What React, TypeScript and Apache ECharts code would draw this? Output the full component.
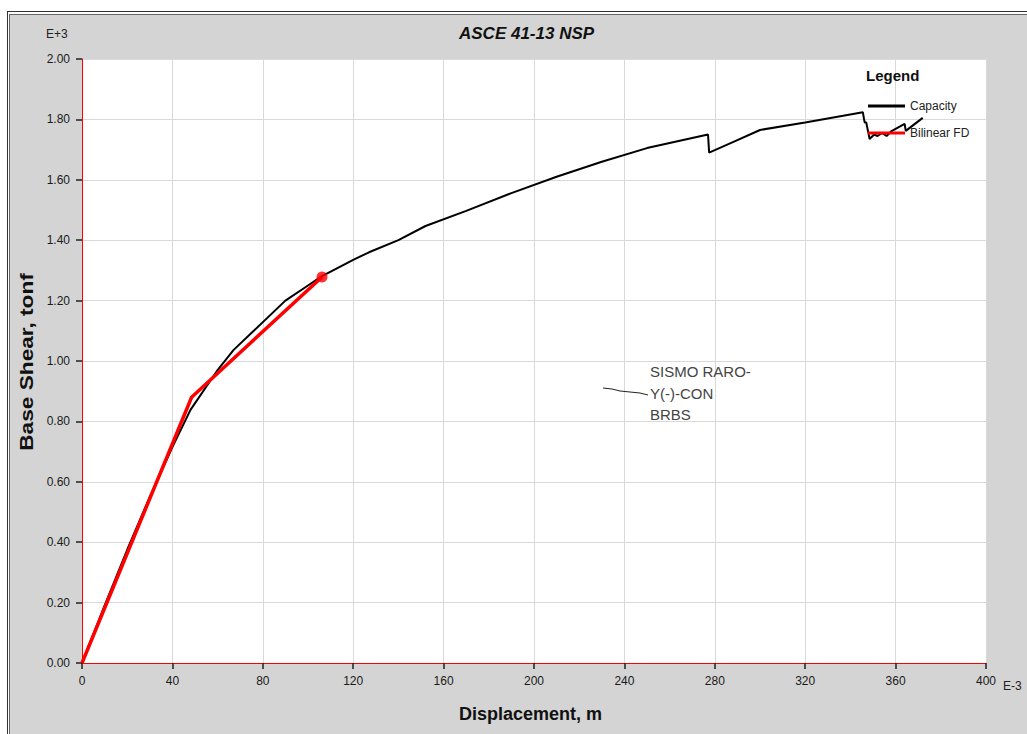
import React, { useEffect, useRef } from "react";
import * as echarts from "echarts";

// Capacity curve (displacement in E-3 m, base shear in E+3 tonf)
const capacityX = [0, 10, 20, 30, 40, 48, 60, 67, 76, 90, 100, 106, 120, 127, 140, 152, 170, 190, 210, 230, 250, 265, 277, 277.5, 288, 300, 320, 345.5, 346.3, 347, 348.5, 350.5, 352, 354, 356, 358, 364, 364.5, 372];
const capacityY = [0, 0.19, 0.375, 0.55, 0.715, 0.838, 0.97, 1.036, 1.1, 1.2, 1.25, 1.28, 1.335, 1.36, 1.4, 1.447, 1.497, 1.556, 1.61, 1.66, 1.705, 1.73, 1.75, 1.69, 1.725, 1.765, 1.79, 1.824, 1.79, 1.79, 1.735, 1.75, 1.745, 1.755, 1.745, 1.76, 1.785, 1.762, 1.805];

// Bilinear FD
const bilinearX = [0, 48.5, 106.2];
const bilinearY = [0, 0.88, 1.278];

const seriesNames = ["Capacity", "Bilinear FD"];
const titleText = "ASCE 41-13 NSP";
const xAxisTitle = "Displacement, m";
const yAxisTitle = "Base Shear, tonf";
const noteLines = ["SISMO RARO-", "Y(-)-CON", "BRBS"];

const FONT = "'Liberation Sans', Arial, sans-serif";

export default function App() {
  const ref = useRef<HTMLDivElement>(null);
  useEffect(() => {
    if (!ref.current) return;
    const chart = echarts.init(ref.current, null, { renderer: "svg" });
    const capData = capacityX.map((x, i) => [x, capacityY[i]]);
    const biData = bilinearX.map((x, i) => [x, bilinearY[i]]);
    const last = biData[biData.length - 1];
    chart.setOption({
      animation: false,
      backgroundColor: "#ffffff",
      textStyle: { fontFamily: FONT },
      grid: {
        left: 82,
        right: 41,
        top: 59,
        bottom: 71,
        show: true,
        backgroundColor: "#ffffff",
        borderWidth: 0,
      },
      xAxis: {
        type: "value",
        min: 0,
        max: 400,
        interval: 40,
        axisLine: { show: true, onZero: false, lineStyle: { color: "#ff0000", width: 1 } },
        axisTick: { show: true, length: 6, lineStyle: { color: "#222", width: 1.5 } },
        axisLabel: { color: "#1a1a1a", fontSize: 12, margin: 12, fontFamily: FONT },
        splitLine: { show: true, lineStyle: { color: "#d9d9d9", width: 1 } },
      },
      yAxis: {
        type: "value",
        min: 0,
        max: 2,
        interval: 0.2,
        axisLine: { show: true, onZero: false, lineStyle: { color: "#ff0000", width: 1 } },
        axisTick: { show: true, length: 6, lineStyle: { color: "#222", width: 1.5 } },
        axisLabel: {
          color: "#1a1a1a",
          fontSize: 12,
          margin: 12,
          fontFamily: FONT,
          formatter: (v: number) => v.toFixed(2),
        },
        splitLine: { show: true, lineStyle: { color: "#d9d9d9", width: 1 } },
      },
      legend: {
        show: true,
        orient: "vertical",
        left: 868,
        top: 100,
        padding: 0,
        itemGap: 15,
        itemWidth: 37,
        itemHeight: 3,
        icon: "rect",
        textStyle: { color: "#222", fontSize: 12, fontFamily: FONT },
        data: [
          { name: seriesNames[0], itemStyle: { color: "#000000" } },
          { name: seriesNames[1], itemStyle: { color: "#ff0000" } },
        ],
      },
      series: [
        {
          name: seriesNames[0],
          type: "line",
          data: capData,
          symbol: "none",
          lineStyle: { color: "#000000", width: 2 },
          itemStyle: { color: "#000000" },
          z: 3,
        },
        {
          name: seriesNames[1],
          type: "line",
          data: biData,
          symbol: "none",
          lineStyle: { color: "#ff0000", width: 3.5 },
          itemStyle: { color: "#ff0000" },
          z: 4,
        },
        {
          name: "Bilinear FD end",
          type: "scatter",
          data: [last],
          symbol: "circle",
          symbolSize: 11,
          itemStyle: { color: "#ff0000" },
          z: 5,
        },
      ],
      graphic: [
        // frame background
        { type: "rect", z: -100, silent: true, shape: { x: 10, y: 15, width: 1100, height: 800 }, style: { fill: "#d4d4d4" } },
        { type: "line", z: -99, silent: true, shape: { x1: 7.5, y1: 11, x2: 7.5, y2: 734 }, style: { stroke: "#333", lineWidth: 1 } },
        { type: "line", z: -99, silent: true, shape: { x1: 9.5, y1: 14, x2: 9.5, y2: 734 }, style: { stroke: "#666", lineWidth: 1 } },
        { type: "line", z: -99, silent: true, shape: { x1: 7, y1: 11.5, x2: 1027, y2: 11.5 }, style: { stroke: "#333", lineWidth: 1 } },
        { type: "line", z: -99, silent: true, shape: { x1: 9, y1: 14.5, x2: 1027, y2: 14.5 }, style: { stroke: "#666", lineWidth: 1 } },
        // title
        {
          type: "text",
          left: 459,
          top: 25,
          style: { text: titleText, fill: "#111", font: `italic bold 17px ${FONT}` },
        },
        // unit exponents
        { type: "text", left: 46, top: 28, style: { text: "E+3", fill: "#222", font: `12px ${FONT}` } },
        { type: "text", left: 1003, top: 680, style: { text: "E-3", fill: "#222", font: `12px ${FONT}` } },
        // axis titles
        {
          type: "text",
          left: 459,
          top: 705,
          style: { text: xAxisTitle, fill: "#111", font: `bold 18px ${FONT}` },
        },
        {
          type: "text",
          x: 26,
          y: 362,
          rotation: Math.PI / 2,
          scaleX: 1.26,
          style: {
            text: yAxisTitle,
            fill: "#111",
            font: `bold 18px ${FONT}`,
            align: "center",
            verticalAlign: "middle",
          },
        },
        // legend title
        { type: "text", z: 50, left: 866, top: 68, style: { text: "Legend", fill: "#111", font: `bold 15px ${FONT}` } },
        // annotation
        {
          type: "text",
          z: 50,
          left: 650,
          top: 361,
          style: {
            text: noteLines.join("\n"),
            fill: "#444",
            font: `15px ${FONT}`,
            lineHeight: 21.5,
          },
        },
        {
          type: "polyline",
          z: 50,
          silent: true,
          shape: { points: [[603, 388], [612, 389], [620, 391], [630, 392], [640, 393], [648, 395]] },
          style: { stroke: "#222", lineWidth: 1, fill: "none" },
        },
      ],
    });
    return () => chart.dispose();
  }, []);
  return (
    <div
      ref={ref}
      style={{ position: "absolute", left: 0, top: 0, width: 1027, height: 734 }}
    />
  );
}
